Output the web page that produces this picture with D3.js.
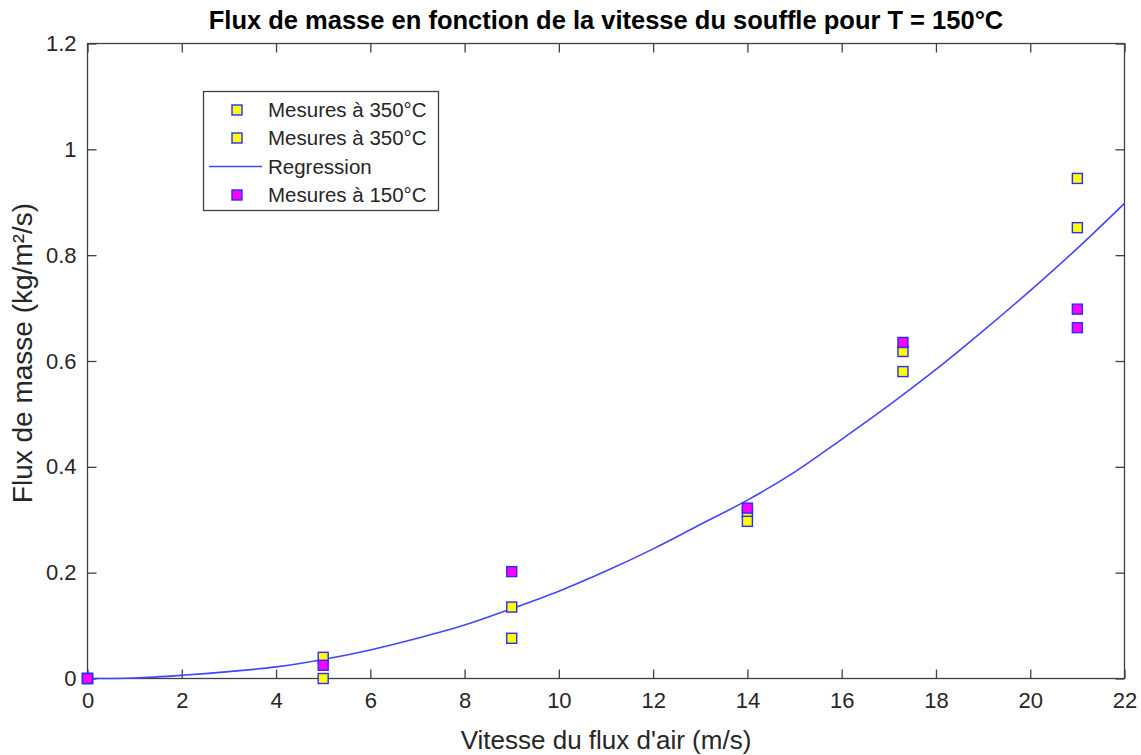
<!DOCTYPE html>
<html>
<head>
<meta charset="utf-8">
<script src="https://cdn.jsdelivr.net/npm/d3@7"></script>
<style>
  html, body { margin: 0; padding: 0; background: #fff; }
  svg { display: block; font-family: "Liberation Sans", Arial, Helvetica, sans-serif; }
</style>
</head>
<body>
<svg id="chart" width="1141" height="755"></svg>
<script>
// Measurements at 350°C (two runs) and at 150°C
const mes350aX = [0, 5, 9, 14, 17.3, 21];
const mes350aY = [0, 0.040, 0.135, 0.314, 0.618, 0.945];
const mes350bX = [0, 5, 9, 14, 17.3, 21];
const mes350bY = [0, 0.000, 0.076, 0.297, 0.580, 0.852];
const mes150X = [0, 5, 9, 14, 17.3, 21, 21];
const mes150Y = [0, 0.025, 0.202, 0.322, 0.635, 0.698, 0.663];

// Regression curve sampled along the air speed axis
const regX = [0, 1, 2, 3, 4, 5, 6, 7, 8, 9, 10, 11, 12, 13, 14, 15, 16, 17, 18, 19, 20, 21, 22];
const regY = [0, 0.001, 0.006, 0.013, 0.022, 0.036, 0.054, 0.076, 0.101, 0.132, 0.165, 0.203,
              0.245, 0.291, 0.337, 0.390, 0.452, 0.516, 0.584, 0.657, 0.733, 0.813, 0.898];

const xTicks = [0, 2, 4, 6, 8, 10, 12, 14, 16, 18, 20, 22];
const yTicks = [0, 0.2, 0.4, 0.6, 0.8, 1, 1.2];

const legendItems = ["Mesures à 350°C", "Mesures à 350°C", "Regression", "Mesures à 150°C"];

const svg = d3.select("#chart");
const pL = 87.5, pR = 1124.5, pT = 43.5, pB = 678.5;
const x = d3.scaleLinear().domain([0, 22]).range([pL, pR]);
const y = d3.scaleLinear().domain([0, 1.2]).range([pB, pT]);

const axisCol = "#404040";
const textCol = "#262626";
const tickLen = 9;

// axes box
svg.append("rect").attr("x", pL).attr("y", pT)
  .attr("width", pR - pL).attr("height", pB - pT)
  .attr("fill", "none").attr("stroke", axisCol).attr("stroke-width", 1.3);

// ticks on all four sides, pointing inward
const fmtY = d => d3.format("~g")(d);
const bAxis = d3.axisBottom(x).tickValues(xTicks).tickSizeInner(-tickLen).tickSizeOuter(0).tickPadding(14);
const gb = svg.append("g").attr("transform", `translate(0,${pB})`).call(bAxis);
const tAxis = d3.axisTop(x).tickValues(xTicks).tickSizeInner(-tickLen).tickSizeOuter(0).tickFormat("");
const gt = svg.append("g").attr("transform", `translate(0,${pT})`).call(tAxis);
const lAxis = d3.axisLeft(y).tickValues(yTicks).tickFormat(fmtY).tickSizeInner(-tickLen).tickSizeOuter(0).tickPadding(11);
const gl = svg.append("g").attr("transform", `translate(${pL},0)`).call(lAxis);
const rAxis = d3.axisRight(y).tickValues(yTicks).tickSizeInner(-tickLen).tickSizeOuter(0).tickFormat("");
const gr = svg.append("g").attr("transform", `translate(${pR},0)`).call(rAxis);

[gb, gt, gl, gr].forEach(g => {
  g.select(".domain").remove();
  g.selectAll(".tick line").attr("stroke", axisCol).attr("stroke-width", 1.3);
  g.selectAll(".tick text").attr("fill", textCol).attr("font-size", 22)
    .attr("font-family", "'Liberation Sans', Arial, sans-serif");
});

// regression curve
const line = d3.line().x((d, i) => x(regX[i])).y((d, i) => y(regY[i])).curve(d3.curveCatmullRom);
svg.append("path").datum(regY).attr("d", line)
  .attr("fill", "none").attr("stroke", "#4444ff").attr("stroke-width", 1.6);

// markers
const ms = 10;
function markers(xs, ys, fill) {
  svg.append("g").selectAll("rect").data(ys).join("rect")
    .attr("x", (d, i) => x(xs[i]) - ms / 2)
    .attr("y", d => y(d) - ms / 2)
    .attr("width", ms).attr("height", ms)
    .attr("fill", fill).attr("stroke", "#2b2bff").attr("stroke-width", 1.4);
}
markers(mes350aX, mes350aY, "#ffff00");
markers(mes350bX, mes350bY, "#ffff00");
markers(mes150X, mes150Y, "#ff00ff");

// legend
const lg = svg.append("g");
lg.append("rect").attr("x", 203.5).attr("y", 91.5).attr("width", 235).attr("height", 119)
  .attr("fill", "#fff").attr("stroke", axisCol).attr("stroke-width", 1.3);
const rowY = [110, 138, 166.5, 195];
const fills = ["#ffff00", "#ffff00", null, "#ff00ff"];
legendItems.forEach((t, i) => {
  if (fills[i]) {
    lg.append("rect").attr("x", 237 - ms / 2).attr("y", rowY[i] - ms / 2)
      .attr("width", ms).attr("height", ms)
      .attr("fill", fills[i]).attr("stroke", "#2b2bff").attr("stroke-width", 1.4);
  } else {
    lg.append("line").attr("x1", 209).attr("x2", 262).attr("y1", rowY[i]).attr("y2", rowY[i])
      .attr("stroke", "#4444ff").attr("stroke-width", 1.6);
  }
  lg.append("text").attr("x", 268).attr("y", rowY[i]).attr("dy", "0.35em")
    .attr("font-size", 20.5).attr("fill", textCol).text(t);
});

// title and axis labels
svg.append("text").attr("x", (pL + pR) / 2).attr("y", 29).attr("text-anchor", "middle")
  .attr("font-size", 25.5).attr("font-weight", "bold").attr("fill", "#000")
  .text("Flux de masse en fonction de la vitesse du souffle pour T = 150°C");
svg.append("text").attr("x", (pL + pR) / 2).attr("y", 749).attr("text-anchor", "middle")
  .attr("font-size", 26).attr("fill", textCol).text("Vitesse du flux d'air (m/s)");
svg.append("text").attr("transform", `translate(32,353) rotate(-90)`)
  .attr("text-anchor", "middle").attr("font-size", 28).attr("fill", textCol)
  .text("Flux de masse (kg/m²/s)");
</script>
</body>
</html>
